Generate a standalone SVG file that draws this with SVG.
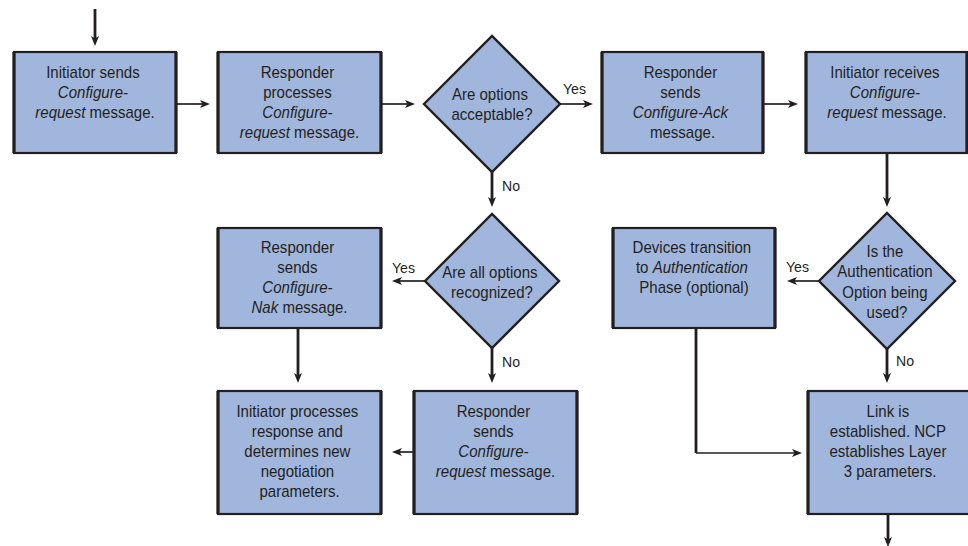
<svg xmlns="http://www.w3.org/2000/svg" width="968" height="546" viewBox="0 0 968 546">
  <style>
    .box rect, .dec polygon { fill: #a1b6dc; stroke: #231f20; stroke-width: 2.2; }
    .box .edge { fill: none; stroke: #231f20; stroke-width: 3.2; }
    .dec polygon { stroke-width: 2.4; stroke-linejoin: miter; }
    text { font-family: "Liberation Sans", Arial, Helvetica, sans-serif; fill: #231f20; }
    .t { font-size: 16px; text-anchor: middle; }
    .lbl { font-size: 15px; }
    .i { font-style: italic; }
    .con path { fill: none; stroke: #231f20; }
    .con .v { stroke-width: 2.8; }
    .con .h { stroke-width: 1.7; }
  </style>
  <defs>
    <marker id="arrow" viewBox="0 0 10 8" refX="4" refY="4" markerWidth="10" markerHeight="8" markerUnits="userSpaceOnUse" orient="auto">
      <path d="M0,0 L10,4 L0,8 L2.5,4 Z" fill="#231f20"/>
    </marker>
  </defs>

  <rect width="968" height="546" fill="#ffffff"/>

  <!-- connectors -->
  <g id="connectors" class="con">
    <path class="v" d="M95,9 V40" marker-end="url(#arrow)"/>
    <path class="h" d="M176,104 H204" marker-end="url(#arrow)"/>
    <path class="h" d="M381,104 H409" marker-end="url(#arrow)"/>
    <path class="h" d="M560,104 H587" marker-end="url(#arrow)"/>
    <path class="h" d="M763,104 H792" marker-end="url(#arrow)"/>
    <path class="v" d="M887,153 V201" marker-end="url(#arrow)"/>
    <path class="v" d="M492,172 V201" marker-end="url(#arrow)"/>
    <path class="h" d="M425,281 H398" marker-end="url(#arrow)"/>
    <path class="v" d="M298,328 V377" marker-end="url(#arrow)"/>
    <path class="v" d="M492,348 V377" marker-end="url(#arrow)"/>
    <path class="h" d="M414,452 H398" marker-end="url(#arrow)"/>
    <path class="h" d="M819,281 H793" marker-end="url(#arrow)"/>
    <path class="v" d="M887,349 V377" marker-end="url(#arrow)"/>
    <path class="v" d="M696,328 V453" />
    <path class="h" d="M696,453 H796" marker-end="url(#arrow)"/>
    <path class="v" d="M888,514 V541" marker-end="url(#arrow)"/>
    <g class="lbl-set">
      <text class="lbl" transform="matrix(0.94 0 0 1 563 94)">Yes</text>
      <text class="lbl" transform="matrix(0.94 0 0 1 502 191)">No</text>
      <text class="lbl" transform="matrix(0.94 0 0 1 392 273)">Yes</text>
      <text class="lbl" transform="matrix(0.94 0 0 1 502 367)">No</text>
      <text class="lbl" transform="matrix(0.94 0 0 1 786 272)">Yes</text>
      <text class="lbl" transform="matrix(0.94 0 0 1 896 366)">No</text>
    </g>
  </g>

  <!-- row 1 -->
  <g id="init-sends" class="box">
    <rect x="14" y="52" width="162" height="101"/>
    <path class="edge" d="M14,52 V153 M176,52 V153"/>
    <text class="t" transform="matrix(0.94 0 0 1 95 0)">
      <tspan x="0" y="78">Initiator sends</tspan>
      <tspan x="0" y="98" class="i">Configure-</tspan>
      <tspan x="0" y="118"><tspan class="i">request</tspan> message.</tspan>
    </text>
  </g>

  <g id="resp-processes" class="box">
    <rect x="218" y="52" width="163" height="101"/>
    <path class="edge" d="M218,52 V153 M381,52 V153"/>
    <text class="t" transform="matrix(0.94 0 0 1 299.5 0)">
      <tspan x="0" y="78">Responder</tspan>
      <tspan x="0" y="98">processes</tspan>
      <tspan x="0" y="118" class="i">Configure-</tspan>
      <tspan x="0" y="138"><tspan class="i">request</tspan> message.</tspan>
    </text>
  </g>

  <g id="options-acceptable" class="dec">
    <polygon points="424,104 492,36 560,104 492,172"/>
    <text class="t" transform="matrix(0.94 0 0 1 492 0)">
      <tspan x="0" y="100">Are options</tspan>
      <tspan x="0" y="120">acceptable?</tspan>
    </text>
  </g>

  <g id="resp-sends-ack" class="box">
    <rect x="602" y="52" width="161" height="101"/>
    <path class="edge" d="M602,52 V153 M763,52 V153"/>
    <text class="t" transform="matrix(0.94 0 0 1 682.5 0)">
      <tspan x="0" y="78">Responder</tspan>
      <tspan x="0" y="98">sends</tspan>
      <tspan x="0" y="118" class="i">Configure-Ack</tspan>
      <tspan x="0" y="138">message.</tspan>
    </text>
  </g>

  <g id="init-receives" class="box">
    <rect x="806" y="52" width="161" height="101"/>
    <path class="edge" d="M806,52 V153 M967,52 V153"/>
    <text class="t" transform="matrix(0.94 0 0 1 887 0)">
      <tspan x="0" y="78">Initiator receives</tspan>
      <tspan x="0" y="98" class="i">Configure-</tspan>
      <tspan x="0" y="118"><tspan class="i">request</tspan> message.</tspan>
    </text>
  </g>

  <!-- row 2 -->
  <g id="resp-sends-nak" class="box">
    <rect x="218" y="228" width="163" height="100"/>
    <path class="edge" d="M218,228 V328 M381,228 V328"/>
    <text class="t" transform="matrix(0.94 0 0 1 299.5 0)">
      <tspan x="0" y="253">Responder</tspan>
      <tspan x="0" y="273">sends</tspan>
      <tspan x="0" y="293" class="i">Configure-</tspan>
      <tspan x="0" y="313"><tspan class="i">Nak</tspan> message.</tspan>
    </text>
  </g>

  <g id="options-recognized" class="dec">
    <polygon points="425,281 492,214 559,281 492,348"/>
    <text class="t" transform="matrix(0.94 0 0 1 492 0)">
      <tspan x="0" y="278">Are all options</tspan>
      <tspan x="0" y="298">recognized?</tspan>
    </text>
  </g>

  <g id="auth-phase" class="box">
    <rect x="613" y="228" width="162" height="100"/>
    <path class="edge" d="M613,228 V328 M775,228 V328"/>
    <text class="t" transform="matrix(0.94 0 0 1 694 0)">
      <tspan x="0" y="253">Devices transition</tspan>
      <tspan x="0" y="273">to <tspan class="i">Authentication</tspan></tspan>
      <tspan x="0" y="293">Phase (optional)</tspan>
    </text>
  </g>

  <g id="auth-option-used" class="dec">
    <polygon points="819,281 887,213 955,281 887,349"/>
    <text class="t" transform="matrix(0.94 0 0 1 887 0)">
      <tspan x="0" y="257">Is the</tspan>
      <tspan x="0" y="277">Authentication</tspan>
      <tspan x="0" y="298">Option being</tspan>
      <tspan x="0" y="318">used?</tspan>
    </text>
  </g>

  <!-- row 3 -->
  <g id="init-processes" class="box">
    <rect x="218" y="391" width="163" height="123"/>
    <path class="edge" d="M218,391 V514 M381,391 V514"/>
    <text class="t" transform="matrix(0.94 0 0 1 299.5 0)">
      <tspan x="0" y="417">Initiator processes</tspan>
      <tspan x="0" y="437">response and</tspan>
      <tspan x="0" y="457">determines new</tspan>
      <tspan x="0" y="477">negotiation</tspan>
      <tspan x="0" y="497">parameters.</tspan>
    </text>
  </g>

  <g id="resp-sends-request" class="box">
    <rect x="414" y="391" width="163" height="123"/>
    <path class="edge" d="M414,391 V514 M577,391 V514"/>
    <text class="t" transform="matrix(0.94 0 0 1 495.5 0)">
      <tspan x="0" y="417">Responder</tspan>
      <tspan x="0" y="437">sends</tspan>
      <tspan x="0" y="457" class="i">Configure-</tspan>
      <tspan x="0" y="477"><tspan class="i">request</tspan> message.</tspan>
    </text>
  </g>

  <g id="link-established" class="box">
    <rect x="808" y="391" width="164" height="123"/>
    <path class="edge" d="M808,391 V514"/>
    <text class="t" transform="matrix(0.94 0 0 1 890 0)">
      <tspan x="0" y="417">Link is</tspan>
      <tspan x="0" y="437">established. NCP</tspan>
      <tspan x="0" y="457">establishes Layer</tspan>
      <tspan x="0" y="477">3 parameters.</tspan>
    </text>
  </g>
</svg>
